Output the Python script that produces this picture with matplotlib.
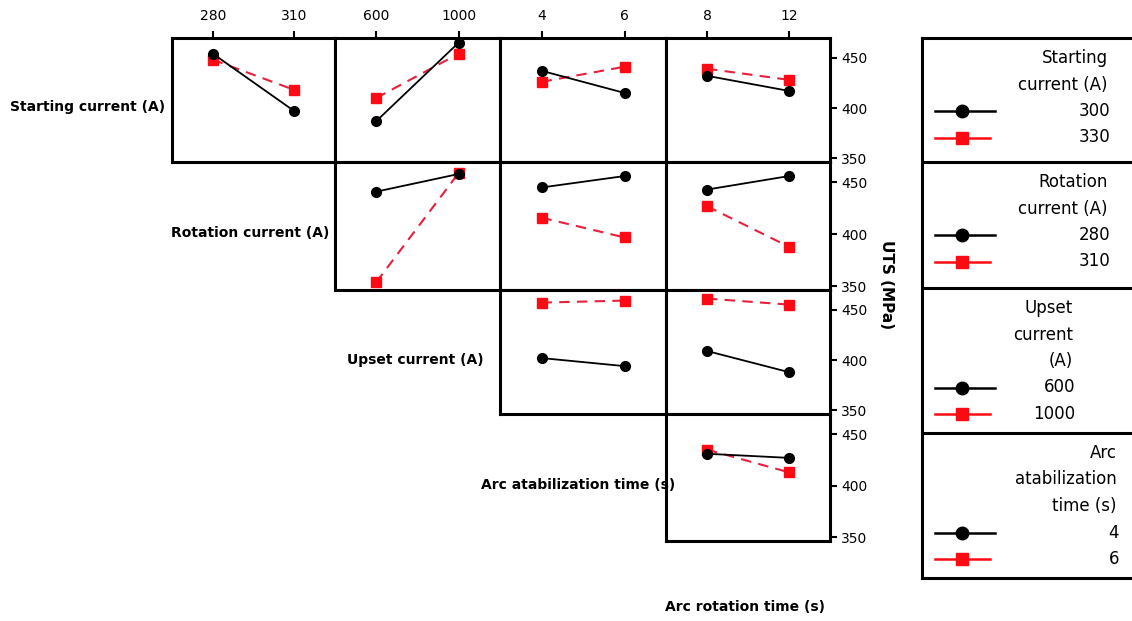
import matplotlib
matplotlib.use('Agg')
import matplotlib.pyplot as plt
from matplotlib.lines import Line2D

plt.rcParams['font.family'] = ['DejaVu Sans']

# factors and levels
row_names = ['Starting current (A)', 'Rotation current (A)', 'Upset current (A)', 'Arc atabilization time (s)']
col_levels = [[280, 310], [600, 1000], [4, 6], [8, 12]]   # x factors: rotation, upset, arc stab., arc rotation
col_ticklabels = [['280', '310'], ['600', '1000'], ['4', '6'], ['8', '12']]

# mean UTS (MPa) for low level (black) and high level (red) of the row factor, one pair per column
start_300 = [[454, 397], [387, 465], [437, 415], [432, 417]]
start_330 = [[448, 418], [410, 454], [426, 441], [439, 428]]
rot_280 = [[441, 458], [445, 456], [443, 456]]
rot_310 = [[354, 459], [416, 397], [427, 388]]
upset_600 = [[402, 394], [409, 388]]
upset_1000 = [[457, 459], [461, 455]]
stab_4 = [[431, 427]]
stab_6 = [[435, 413]]

low_rows = [start_300, rot_280, upset_600, stab_4]
high_rows = [start_330, rot_310, upset_1000, stab_6]

legend_titles = ['Starting\ncurrent (A)', 'Rotation\ncurrent (A)', 'Upset\ncurrent\n(A)', 'Arc\natabilization\ntime (s)']
legend_levels = [['300', '330'], ['280', '310'], ['600', '1000'], ['4', '6']]

W, H = 1132, 621
fig = plt.figure(figsize=(W / 100, H / 100), dpi=100)

col_left = [172, 335, 500, 666]
col_w = [163, 165, 166, 164]
row_top = [38, 162, 290, 414]
row_h = [124, 128, 124, 127]

red = '#ff0a14'
red_line = '#e8203c'
lw_frame = 2.2

for r in range(4):
    for c in range(r, 4):
        ax = fig.add_axes([col_left[c] / W, 1 - (row_top[r] + row_h[r]) / H, col_w[c] / W, row_h[r] / H])
        lo, hi = col_levels[c]
        d = hi - lo
        ax.set_xlim(lo - d / 2, hi + d / 2)
        ax.set_ylim(346.5, 469.5)
        k = c - r
        ax.plot(col_levels[c], high_rows[r][k], color=red_line, lw=1.5, dashes=(5, 3.5), zorder=2)
        ax.plot(col_levels[c], high_rows[r][k], ls='none', marker='s', ms=7, mfc=red, mec=red, zorder=2)
        ax.plot(col_levels[c], low_rows[r][k], color='black', lw=1.3,
                marker='o', ms=7, zorder=3)
        for s in ax.spines.values():
            s.set_linewidth(lw_frame)
        ax.tick_params(which='both', length=0, labelbottom=False, labelleft=False)
        if r == 0:
            ax.xaxis.tick_top()
            ax.set_xticks(col_levels[c])
            ax.set_xticklabels(col_ticklabels[c], fontsize=10)
            ax.tick_params(axis='x', length=5, width=1.5, pad=6, labeltop=True)
        else:
            ax.set_xticks([])
        if c == 3:
            ax.yaxis.tick_right()
            ax.set_yticks([350, 400, 450])
            ax.tick_params(axis='y', length=5, width=1.5, labelsize=10, labelright=True, pad=3)
        else:
            ax.set_yticks([])

# row factor labels
fig.text(10 / W, 1 - 107 / H, row_names[0], fontsize=10, fontweight='bold', ha='left', va='center')
fig.text(250 / W, 1 - 233 / H, row_names[1], fontsize=10, fontweight='bold', ha='center', va='center')
fig.text(415 / W, 1 - 360 / H, row_names[2], fontsize=10, fontweight='bold', ha='center', va='center')
fig.text(578 / W, 1 - 485 / H, row_names[3], fontsize=10, fontweight='bold', ha='center', va='center')
fig.text(745 / W, 1 - 607 / H, 'Arc rotation time (s)', fontsize=10, fontweight='bold', ha='center', va='center')
fig.text(886 / W, 1 - 285 / H, 'UTS (MPa)', fontsize=11, fontweight='bold', rotation=270, ha='center', va='center')

# legend panel (drawn in pixel coordinates of the figure)
lg = fig.add_axes([922 / W, 1 - 578 / H, (1145 - 922) / W, (578 - 38) / H])
lg.set_xlim(922, 1145)
lg.set_ylim(578, 38)
lg.set_xticks([])
lg.set_yticks([])
for s in lg.spines.values():
    s.set_linewidth(lw_frame)
for yd in [162, 288, 433]:
    lg.axhline(yd, color='black', lw=lw_frame)

sec_top = [38, 162, 288, 433]
sec_right = [1108, 1108, 1073, 1117]
for i in range(4):
    lines = legend_titles[i].split('\n')
    y = sec_top[i] + 20
    for ln in lines:
        lg.text(sec_right[i], y, ln, fontsize=12, ha='right', va='center')
        y += 26.5
    for j in range(2):
        if j == 0:
            lg.add_line(Line2D([935, 995], [y, y], color='black', lw=1.8))
            lg.plot([962], [y], marker='o', ms=9, color='black')
        else:
            lg.add_line(Line2D([935, 990], [y, y], color=red, lw=1.8))
            lg.plot([962], [y], marker='s', ms=9, color=red)
        lg.text(sec_right[i] + 2, y, legend_levels[i][j], fontsize=12, ha='right', va='center')
        y += 26.5

fig.savefig('out.png', dpi=100)
